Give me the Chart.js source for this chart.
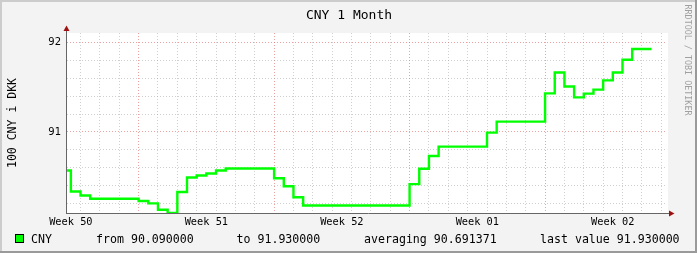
<!DOCTYPE html>
<html>
<head>
<meta charset="utf-8">
<title>CNY 1 Month</title>
<script src="https://cdn.jsdelivr.net/npm/chart.js@4/dist/chart.umd.min.js"></script>
<style>
  html, body { margin: 0; padding: 0; background: #f3f3f3; }
  #wrap { position: relative; width: 697px; height: 253px; }
</style>
</head>
<body>
<div id="wrap"><canvas id="rateChart" width="697" height="253"></canvas></div>
<script>
// ------------------------------------------------------------
// DATA (days counted from the left edge of the graph)
// ------------------------------------------------------------
const stepDays = [0, 0.2, 0.7, 1.2, 3.7, 4.2, 4.7, 5.2, 5.7, 6.2, 6.7, 7.2, 7.7, 8.2,
  10.7, 11.2, 11.7, 12.2, 17.7, 18.2, 18.7, 19.2, 21.7, 22.2, 24.7, 25.2, 25.7,
  26.2, 26.7, 27.2, 27.7, 28.2, 28.7, 29.2, 30.2];
const rates = [90.567, 90.331, 90.287, 90.25, 90.224, 90.198, 90.127, 90.09, 90.325,
  90.488, 90.51, 90.534, 90.567, 90.59, 90.48, 90.39, 90.266, 90.175, 90.414,
  90.586, 90.73, 90.835, 90.992, 91.115, 91.433, 91.667, 91.51, 91.388, 91.43,
  91.474, 91.578, 91.667, 91.81, 91.93, 91.93];

const weekCenters = [0.2, 7.2, 14.2, 21.2, 28.2];
const weekLabels = ["Week 50", "Week 51", "Week 52", "Week 01", "Week 02"];
const dayLines = Array.from({ length: 31 }, (_, i) => 0.7 + i);   // midnight lines
const weekLines = [3.7, 10.7, 17.7, 24.7];                          // monday lines
const yTicks = [90.2, 90.4, 90.6, 90.8, 91.0, 91.2, 91.4, 91.6, 91.8, 92.0];

const legendStats = ["from 90.090000", "to 91.930000", "averaging 90.691371", "last value 91.930000"];

const MONO = "'DejaVu Sans Mono', monospace";
const MINOR = "rgba(150,150,150,0.45)";
const MAJOR = "rgba(220,100,100,0.6)";

const isMajorX = v => weekLines.some(w => Math.abs(w - v) < 0.01);
const isLabelX = v => weekCenters.some(w => Math.abs(w - v) < 0.01);

// ------------------------------------------------------------
// RRD style decorations: frame, titles, axes with arrows, legend
// ------------------------------------------------------------
const rrdDecor = {
  id: "rrdDecor",
  beforeDraw(chart) {
    const { ctx, chartArea: a } = chart;
    ctx.save();
    ctx.fillStyle = "#f3f3f3";
    ctx.fillRect(0, 0, 697, 253);
    ctx.fillStyle = "#ffffff";
    ctx.fillRect(a.left, a.top, a.right - a.left + 1, a.bottom - a.top);
    // 3d frame
    ctx.fillStyle = "#cccccc";
    ctx.fillRect(0, 0, 697, 2);
    ctx.fillRect(0, 0, 2, 253);
    ctx.fillStyle = "#9a9a9a";
    ctx.fillRect(0, 251, 697, 2);
    ctx.fillRect(695, 0, 2, 253);
    ctx.restore();
  },
  beforeDatasetsDraw(chart) {
    const { ctx, chartArea: a } = chart;
    ctx.save();
    ctx.strokeStyle = "#666666";
    ctx.lineWidth = 1;
    ctx.beginPath();
    ctx.moveTo(a.left - 0.5, a.bottom + 0.5);
    ctx.lineTo(a.left - 0.5, 29);
    ctx.moveTo(a.left - 1, a.bottom + 0.5);
    ctx.lineTo(671, a.bottom + 0.5);
    ctx.stroke();
    ctx.fillStyle = "#a01010";
    ctx.beginPath();
    ctx.moveTo(a.left - 0.5, 25.5);
    ctx.lineTo(a.left - 3.5, 31);
    ctx.lineTo(a.left + 2.5, 31);
    ctx.fill();
    ctx.beginPath();
    ctx.moveTo(674.5, a.bottom + 0.5);
    ctx.lineTo(669, a.bottom - 2.5);
    ctx.lineTo(669, a.bottom + 3.5);
    ctx.fill();
    ctx.restore();
  },
  afterDraw(chart) {
    const { ctx } = chart;
    ctx.save();
    ctx.fillStyle = "#000000";
    ctx.textBaseline = "alphabetic";

    // title
    ctx.font = "13px " + MONO;
    ctx.textAlign = "center";
    ctx.fillText("CNY 1 Month", 349, 18.5);

    // vertical label
    ctx.save();
    ctx.translate(15.5, 123);
    ctx.rotate(-Math.PI / 2);
    ctx.font = "11.5px " + MONO;
    ctx.fillText("100 CNY i DKK", 0, 0);
    ctx.restore();

    // watermark
    ctx.save();
    ctx.translate(685, 60);
    ctx.rotate(Math.PI / 2);
    ctx.font = "8.4px " + MONO;
    ctx.fillStyle = "#a0a0a0";
    ctx.fillText("RRDTOOL / TOBI OETIKER", 0, 0);
    ctx.restore();

    // legend
    ctx.fillStyle = "#00ff00";
    ctx.fillRect(15.5, 234.5, 8, 8);
    ctx.strokeStyle = "#000000";
    ctx.lineWidth = 1;
    ctx.strokeRect(15.5, 234.5, 8, 8);
    ctx.fillStyle = "#000000";
    ctx.font = "11.6px " + MONO;
    ctx.textAlign = "left";
    ctx.fillText("CNY", 31, 243);
    const xs = [96, 236.5, 364, 540];
    legendStats.forEach((t, i) => ctx.fillText(t, xs[i], 243));
    ctx.restore();
  }
};

new Chart(document.getElementById("rateChart"), {
  type: "line",
  data: {
    datasets: [{
      label: "CNY",
      data: stepDays.map((d, i) => ({ x: d, y: rates[i] })),
      stepped: "before",
      borderColor: "#00ff00",
      borderWidth: 2.4,
      pointRadius: 0,
      fill: false
    }]
  },
  options: {
    responsive: false,
    animation: false,
    events: [],
    layout: { padding: { top: 33, right: 30, left: 0, bottom: 0 } },
    plugins: {
      legend: { display: false },
      title: { display: false },
      tooltip: { enabled: false }
    },
    scales: {
      x: {
        type: "linear",
        min: 0,
        max: 31,
        afterBuildTicks: scale => {
          scale.ticks = dayLines.concat(weekCenters).sort((p, q) => p - q).map(v => ({ value: v }));
        },
        afterFit: scale => { scale.height = 40; },
        grid: {
          drawTicks: false,
          color: c => (isLabelX(c.tick.value) ? "rgba(0,0,0,0)" : isMajorX(c.tick.value) ? MAJOR : MINOR),
          lineWidth: 1
        },
        border: { display: false, dash: [1, 2] },
        ticks: {
          autoSkip: false,
          maxRotation: 0,
          padding: 3,
          color: "#000000",
          font: { family: MONO, size: 10.3 },
          callback: v => {
            const i = weekCenters.findIndex(w => Math.abs(w - v) < 0.01);
            return i >= 0 ? weekLabels[i] : "";
          }
        }
      },
      y: {
        min: 90.09,
        max: 92.11,
        afterBuildTicks: scale => {
          scale.ticks = yTicks.map(v => ({ value: v }));
        },
        afterFit: scale => { scale.width = 67; },
        grid: {
          drawTicks: false,
          color: c => (Math.abs(c.tick.value % 1) < 0.001 ? MAJOR : MINOR),
          lineWidth: 1
        },
        border: { display: false, dash: [1, 2] },
        ticks: {
          padding: 6,
          color: "#000000",
          font: { family: "'DejaVu Sans', sans-serif", size: 10 },
          callback: v => (Math.abs(v % 1) < 0.001 ? String(Math.round(v)) : "")
        }
      }
    }
  },
  plugins: [rrdDecor]
});
</script>
</body>
</html>
